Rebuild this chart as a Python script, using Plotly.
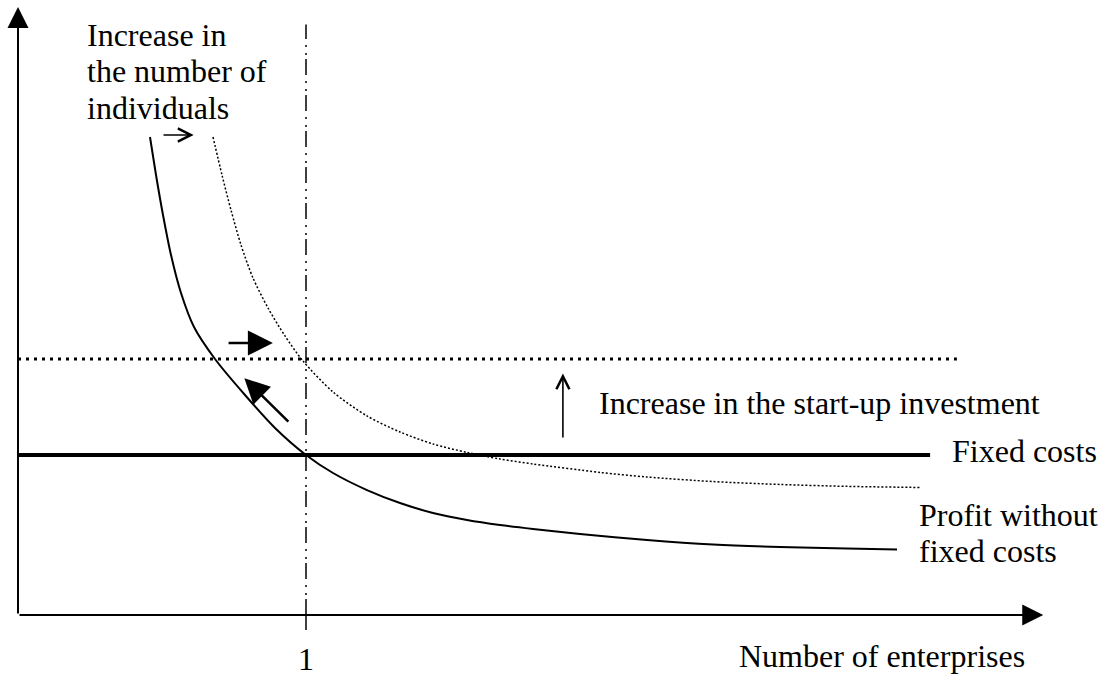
import plotly.graph_objects as go

# ---- data ----
profit_x = [0.4583, 0.4792, 0.5035, 0.5313, 0.5660, 0.6111, 0.6840, 0.7882, 0.8924, 1.0,
            1.0938, 1.2118, 1.3264, 1.4410, 1.5590, 1.6736, 1.7882, 1.9514, 2.1840,
            2.4132, 2.6458, 2.8785, 3.0521]
profit_y = [2.9875, 2.75, 2.50, 2.25, 2.0125, 1.80, 1.60, 1.375, 1.169, 1.0,
            0.8875, 0.781, 0.70, 0.6375, 0.594, 0.5625, 0.5375, 0.506, 0.469,
            0.441, 0.425, 0.415, 0.409]

shifted_x = [0.6771, 0.7083, 0.7396, 0.7743, 0.8160, 0.8681, 0.9271, 0.9896, 1.0938,
             1.2118, 1.3264, 1.4410, 1.5590, 1.6736, 1.7882, 2.0208, 2.1840, 2.4132,
             2.6458, 2.8785, 3.1319]
shifted_y = [2.9875, 2.75, 2.531, 2.3125, 2.106, 1.919, 1.744, 1.5875, 1.394,
             1.244, 1.144, 1.069, 1.016, 0.975, 0.944, 0.891, 0.8625, 0.834,
             0.816, 0.804, 0.797]

fixed_cost = 1.0
fixed_cost_x = [0.0, 3.167]
startup_level = 1.6
startup_x = [0.0, 3.26]
x_mark = 1
x_mark_top = 3.69
tick_label = "1"
x_axis_title = "Number of enterprises"
label_individuals = ["Increase in", "the number of", "individuals"]
label_startup = "Increase in the start-up investment"
label_fixed = "Fixed costs"
label_profit = ["Profit without", "fixed costs"]

# arrows: (tail_x, tail_y, tip_x, tip_y)
axis_y_arrow = (0.0, 0.0, 0.0, 3.80)
axis_x_arrow = (0.0, 0.0, 3.56, 0.0)
bold_arrows = [(0.726, 1.70, 0.885, 1.70), (0.944, 1.20, 0.786, 1.48)]
thin_arrows = [(0.50, 3.0, 0.61, 3.0), (1.892, 1.10, 1.892, 1.51)]

FONT = "Liberation Serif"
FSIZE = 32
W, H = 1103, 677

fig = go.Figure()

# vertical dash-dot line at x = 1
fig.add_trace(go.Scatter(x=[x_mark, x_mark], y=[0, x_mark_top], mode="lines",
                         line=dict(color="black", width=1.5,
                                   dash="16px,4px,2px,6px,2px,6px"),
                         hoverinfo="skip"))
# tick mark below the axis
fig.add_trace(go.Scatter(x=[x_mark, x_mark], y=[0, -0.094], mode="lines",
                         line=dict(color="black", width=1.5), hoverinfo="skip"))
# start-up investment dotted line
fig.add_trace(go.Scatter(x=startup_x, y=[startup_level, startup_level], mode="lines",
                         line=dict(color="black", width=3, dash="3px,5px"),
                         hoverinfo="skip"))
# fixed costs
fig.add_trace(go.Scatter(x=fixed_cost_x, y=[fixed_cost, fixed_cost], mode="lines",
                         line=dict(color="black", width=4), hoverinfo="skip"))
# shifted curve (dotted)
fig.add_trace(go.Scatter(x=shifted_x, y=shifted_y, mode="lines",
                         line=dict(color="black", width=1.5, dash="2px,2px",
                                   shape="spline", smoothing=0.8),
                         hoverinfo="skip"))
# profit without fixed costs (solid)
fig.add_trace(go.Scatter(x=profit_x, y=profit_y, mode="lines",
                         line=dict(color="black", width=2, shape="spline",
                                   smoothing=0.8),
                         hoverinfo="skip"))

annotations = []


def arrow(a, head, size, width):
    tx, ty, hx, hy = a
    return dict(x=hx, y=hy, ax=tx, ay=ty, xref="x", yref="y", axref="x", ayref="y",
                text="", showarrow=True, arrowhead=head, arrowsize=size,
                arrowwidth=width, arrowcolor="black", standoff=0)


annotations.append(arrow(axis_y_arrow, 2, 2.1, 2))
annotations.append(arrow(axis_x_arrow, 2, 2.1, 2))
for a in bold_arrows:
    annotations.append(arrow(a, 2, 2.0, 2.5))
for a in thin_arrows:
    annotations.append(arrow(a, 5, 1.6, 1.6))


def label(text, x, y, xanchor="left"):
    return dict(x=x, y=y, xref="x", yref="y", text=text, showarrow=False,
                xanchor=xanchor, yanchor="middle", align="left",
                font=dict(family=FONT, size=FSIZE, color="black"))


for line_text, yy in zip(label_individuals, [3.622, 3.397, 3.166]):
    annotations.append(label(line_text, 0.2326, yy))
annotations.append(label(label_startup, 2.0104, 1.322))
annotations.append(label(label_fixed, 3.236, 1.022))
for line_text, yy in zip(label_profit, [0.622, 0.397]):
    annotations.append(label(line_text, 3.123, yy))
annotations.append(label(tick_label, x_mark, -0.272, xanchor="center"))
annotations.append(label(x_axis_title, 3.503, -0.259, xanchor="right"))

fig.update_layout(
    width=W, height=H, autosize=False,
    margin=dict(l=0, r=0, t=0, b=0, pad=0),
    paper_bgcolor="white", plot_bgcolor="white",
    showlegend=False,
    xaxis=dict(range=[-18 / 288, (W - 18) / 288], visible=False, fixedrange=True),
    yaxis=dict(range=[(615 - H) / 160, 615 / 160], visible=False, fixedrange=True),
    annotations=annotations,
)

fig.write_html("out.html", config={"displayModeBar": False},
               post_script="document.body.style.margin='0';document.body.style.overflow='hidden';")
